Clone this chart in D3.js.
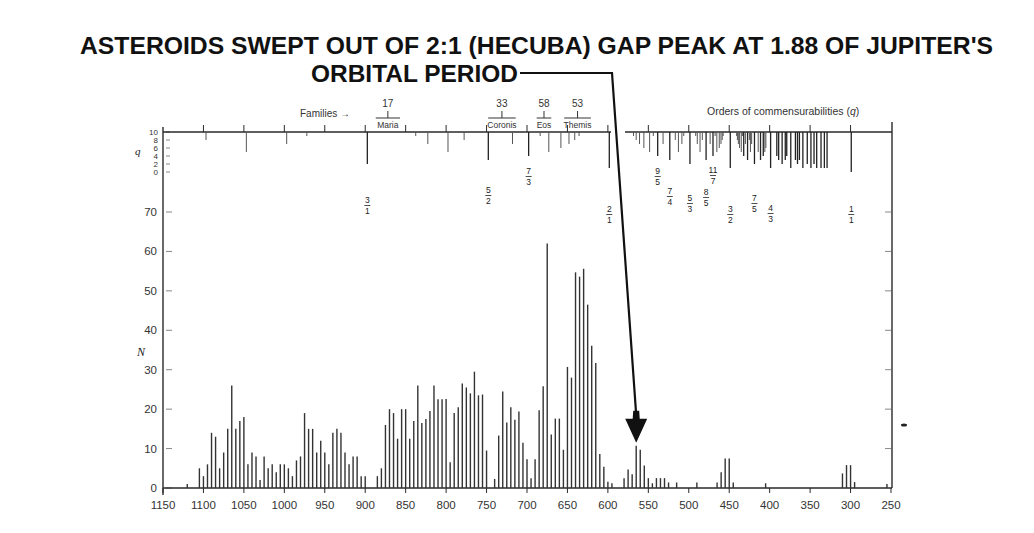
<!DOCTYPE html>
<html>
<head>
<meta charset="utf-8">
<script src="https://cdn.jsdelivr.net/npm/d3@7/dist/d3.min.js"></script>
<style>
  html, body { margin: 0; padding: 0; background: #fff; }
  svg { display: block; }
</style>
</head>
<body>
<script>
// title
var titleLines = ["ASTEROIDS SWEPT OUT OF 2:1 (HECUBA) GAP PEAK AT 1.88 OF JUPITER'S", "ORBITAL PERIOD"];

// axes
var xTicks = [1150, 1100, 1050, 1000, 950, 900, 850, 800, 750, 700, 650, 600, 550, 500, 450, 400, 350, 300, 250];
var yTicks = [0, 10, 20, 30, 40, 50, 60, 70];
var qTicks = [10, 8, 6, 4, 2, 0];

// histogram: mean motion bin ("/day) and number of asteroids N
var motion = [1120, 1105, 1100, 1095, 1090, 1085, 1080, 1075, 1070, 1065, 1060, 1055, 1050, 1045, 1040, 1035, 1030,
    1025, 1020, 1015, 1010, 1005, 1000, 995, 990, 985, 980, 975, 970, 965, 960, 955, 950, 945, 940, 935, 930,
    925, 920, 915, 910, 905, 900, 885, 880, 875, 870, 865, 860, 855, 850, 845, 840, 835, 830, 825, 820, 815,
    810, 805, 800, 795, 790, 785, 780, 775, 770, 765, 760, 755, 750, 740, 735, 730, 725, 720, 715, 710, 705,
    700, 695, 690, 685, 680, 675, 670, 665, 660, 655, 650, 645, 640, 635, 630, 625, 620, 615, 610, 605, 600,
    595, 580, 575, 570, 565, 560, 555, 550, 545, 540, 535, 530, 525, 515, 490, 465, 460, 455, 450, 445, 405,
    310, 305, 300, 295, 255];
var counts = [1, 5, 3, 6, 14, 13, 5, 9, 15, 26, 15, 17, 18, 6, 9, 8, 2,
    8, 5, 6, 4, 6, 6, 5, 3, 7, 8, 19, 15, 15, 9, 12, 9, 6, 14, 15, 14,
    9, 6, 8, 8, 3, 3, 3, 5, 16, 20, 19, 12.5, 20, 20, 12.5, 17, 26, 16.5, 17.5, 19.5, 26,
    22.5, 22.5, 22.6, 6.5, 19, 20.5, 26.5, 25.5, 24, 29.5, 23.5, 23.7, 9.5, 2.3, 13.3, 24.5, 16.6, 20.5, 17.3, 19.4, 11.5,
    7.3, 2.5, 7.3, 19.7, 25.8, 62, 13.6, 17.6, 17.6, 9.7, 30.7, 28, 54.7, 53.6, 55.6, 46.5, 36.1, 31.7, 8.6, 5.4, 1.6,
    1.2, 2.5, 4.7, 3.5, 10.7, 9.7, 5.7, 2.5, 1.2, 2.5, 2.5, 2.5, 1.4, 1.4, 1.4, 1.4, 4, 7.5, 7.5, 1.4, 1.2,
    3.7, 5.8, 5.8, 1.5, 1];

// commensurabilities with Jupiter (ratio of mean motions), order q = p - q
var jupiterMotion = 299.13;
var resonances = ["11/3", "7/2", "10/3", "13/4", "3/1", "14/5", "11/4", "8/3", "13/5", "5/2", "12/5", "7/3", "16/7",
    "9/4", "11/5", "13/6", "15/7", "17/8", "2/1",
    "19/10", "17/9", "15/8", "13/7", "11/6", "20/11", "9/5", "16/9", "7/4", "19/11", "12/7", "17/10", "22/13",
    "5/3", "23/14", "18/11", "13/8", "21/13", "8/5", "19/12", "11/7", "25/16", "14/9", "17/11", "20/13", "23/15",
    "26/17", "3/2", "28/19", "25/17", "22/15", "19/13", "16/11", "29/20", "13/9", "23/16", "10/7", "27/19",
    "17/12", "24/17", "7/5", "18/13", "11/8", "15/11", "19/14", "23/17", "4/3", "17/13", "13/10", "9/7",
    "14/11", "19/15", "5/4", "16/13", "11/9", "17/14", "6/5", "13/11", "7/6", "15/13", "8/7", "9/8", "10/9",
    "11/10", "1/1"];
var labelledResonances = ["3/1", "5/2", "7/3", "2/1", "9/5", "7/4", "5/3", "11/7", "8/5", "3/2", "7/5", "4/3", "1/1"];

// families
var familyNames = ["Maria", "Coronis", "Eos", "Themis"];
var familyCounts = [17, 33, 58, 53];
var familyFrom = [887, 748, 688, 654];
var familyTo = [857, 714, 670, 621];

var width = 1034;
var height = 533;
var arrowBar = 565;

var svg = d3.select("body").append("svg")
    .attr("width", width)
    .attr("height", height)
    .style("font-family", "'Liberation Sans', Arial, sans-serif");

var xScale = d3.scaleLinear().domain([1150, 250]).range([163, 891]);
var yScale = d3.scaleLinear().domain([0, 70]).range([488, 212]);
var qScale = d3.scaleLinear().domain([0, 10]).range([172, 132]);

var ink = "#2a2a2a";

function frac(s) {
    var p = s.split("/");
    return { num: +p[0], den: +p[1], order: +p[0] - +p[1] };
}

// title
svg.append("text")
    .attr("x", 80).attr("y", 54)
    .attr("textLength", 913).attr("lengthAdjust", "spacingAndGlyphs")
    .attr("font-size", 24.5).attr("font-weight", "bold").attr("fill", "#111")
    .text(titleLines[0]);
svg.append("text")
    .attr("x", 311).attr("y", 82)
    .attr("textLength", 207).attr("lengthAdjust", "spacingAndGlyphs")
    .attr("font-size", 24.5).attr("font-weight", "bold").attr("fill", "#111")
    .text(titleLines[1]);

// left axis N
var leftAxis = svg.append("g");
leftAxis.append("line")
    .attr("x1", 163).attr("x2", 163).attr("y1", 127).attr("y2", 495)
    .attr("stroke", ink).attr("stroke-width", 1.4);
leftAxis.selectAll(".ytick").data(yTicks).enter().append("line")
    .attr("x1", 166).attr("x2", 172)
    .attr("y1", function(d) { return yScale(d); })
    .attr("y2", function(d) { return yScale(d); })
    .attr("stroke", "#888").attr("stroke-width", 1);
leftAxis.selectAll(".ylab").data(yTicks).enter().append("text")
    .attr("x", 157)
    .attr("y", function(d) { return yScale(d) + 4; })
    .attr("text-anchor", "end").attr("font-size", 11.5).attr("fill", "#333")
    .text(function(d) { return d; });
leftAxis.append("text")
    .attr("x", 137).attr("y", 356)
    .attr("font-family", "'Liberation Serif', serif").attr("font-style", "italic")
    .attr("font-size", 12).attr("fill", "#222")
    .text("N");

// q axis
leftAxis.selectAll(".qtick").data(qTicks).enter().append("line")
    .attr("x1", 166).attr("x2", 170)
    .attr("y1", function(d) { return qScale(d); })
    .attr("y2", function(d) { return qScale(d); })
    .attr("stroke", "#888").attr("stroke-width", 1);
leftAxis.selectAll(".qlab").data(qTicks).enter().append("text")
    .attr("x", 158)
    .attr("y", function(d) { return qScale(d) + 3; })
    .attr("text-anchor", "end").attr("font-size", 8).attr("fill", "#333")
    .text(function(d) { return d; });
leftAxis.append("text")
    .attr("x", 135).attr("y", 155)
    .attr("font-family", "'Liberation Serif', serif").attr("font-style", "italic")
    .attr("font-size", 11).attr("fill", "#222")
    .text("q");

// right axis
var rightAxis = svg.append("g");
rightAxis.append("line")
    .attr("x1", 892).attr("x2", 892).attr("y1", 122).attr("y2", 488)
    .attr("stroke", ink).attr("stroke-width", 1.4);
rightAxis.selectAll("line.rt").data(yTicks.slice(1)).enter().append("line")
    .attr("class", "rt")
    .attr("x1", 885).attr("x2", 891)
    .attr("y1", function(d) { return yScale(d); })
    .attr("y2", function(d) { return yScale(d); })
    .attr("stroke", "#888").attr("stroke-width", 1);

// bottom axis
var bottom = svg.append("g");
bottom.append("line")
    .attr("x1", 163).attr("x2", 892).attr("y1", 488).attr("y2", 488)
    .attr("stroke", ink).attr("stroke-width", 1.3);
bottom.selectAll(".xtick").data(xTicks).enter().append("line")
    .attr("x1", function(d) { return xScale(d); })
    .attr("x2", function(d) { return xScale(d); })
    .attr("y1", 488).attr("y2", 493)
    .attr("stroke", ink).attr("stroke-width", 1);
bottom.selectAll(".xlab").data(xTicks).enter().append("text")
    .attr("x", function(d) { return xScale(d); })
    .attr("y", 509)
    .attr("text-anchor", "middle").attr("font-size", 11.5).attr("fill", "#333")
    .text(function(d) { return d; });

// bars
svg.append("g").selectAll("line")
    .data(motion)
    .enter()
    .append("line")
    .attr("x1", function(d) { return xScale(d); })
    .attr("x2", function(d) { return xScale(d); })
    .attr("y1", yScale(0))
    .attr("y2", function(d, i) { return yScale(counts[i]); })
    .attr("stroke", "#333")
    .attr("stroke-width", 1.4);

// top axis (orders of commensurabilities)
var topAxis = svg.append("g");
var gapLeft = 611, gapRight = 625;
topAxis.append("line")
    .attr("x1", 163).attr("x2", gapLeft).attr("y1", qScale(10)).attr("y2", qScale(10))
    .attr("stroke", ink).attr("stroke-width", 1.3);
topAxis.append("line")
    .attr("x1", gapRight).attr("x2", 892).attr("y1", qScale(10)).attr("y2", qScale(10))
    .attr("stroke", ink).attr("stroke-width", 1.3);
topAxis.selectAll(".ttick").data(xTicks.slice(1, -1)).enter().append("line")
    .attr("x1", function(d) { return xScale(d); })
    .attr("x2", function(d) { return xScale(d); })
    .attr("y1", qScale(10)).attr("y2", qScale(10) - 7)
    .attr("stroke", ink).attr("stroke-width", 1);

topAxis.selectAll(".res").data(resonances).enter().append("line")
    .attr("x1", function(d) { var f = frac(d); return xScale(jupiterMotion * f.num / f.den); })
    .attr("x2", function(d) { var f = frac(d); return xScale(jupiterMotion * f.num / f.den); })
    .attr("y1", qScale(10))
    .attr("y2", function(d) { return qScale(frac(d).order); })
    .attr("stroke", function(d) { return frac(d).order <= 4 ? "#222" : "#555"; })
    .attr("stroke-width", function(d) { return frac(d).order <= 4 ? 1.3 : 1; });

// fraction labels, with a row for each so they stagger as in the figure
var labelRow = { "3/1": 203, "5/2": 193, "7/3": 174, "2/1": 212, "9/5": 174, "7/4": 194, "5/3": 201,
    "11/7": 173, "8/5": 195, "3/2": 212, "7/5": 201, "4/3": 211, "1/1": 212 };
var labels = topAxis.selectAll(".fl").data(labelledResonances).enter().append("g")
    .attr("transform", function(d) {
        var f = frac(d);
        return "translate(" + xScale(jupiterMotion * f.num / f.den) + "," + labelRow[d] + ")";
    });
labels.append("text")
    .attr("y", 0).attr("text-anchor", "middle").attr("font-size", 8.5).attr("fill", "#222")
    .text(function(d) { return frac(d).num; });
labels.append("line")
    .attr("x1", -3).attr("x2", 3).attr("y1", 2.5).attr("y2", 2.5)
    .attr("stroke", "#222").attr("stroke-width", 0.8);
labels.append("text")
    .attr("y", 11).attr("text-anchor", "middle").attr("font-size", 8.5).attr("fill", "#222")
    .text(function(d) { return frac(d).den; });

topAxis.append("text")
    .attr("x", 707).attr("y", 115)
    .attr("font-size", 10.5).attr("fill", "#333")
    .text("Orders of commensurabilities (")
    .append("tspan").attr("font-style", "italic").text("q")
    .select(function() { return this.parentNode; })
    .append("tspan").text(")");

// families
topAxis.append("text")
    .attr("x", 300).attr("y", 117)
    .attr("font-size", 10).attr("fill", "#333")
    .text("Families \u2192");
var fam = topAxis.selectAll(".fam").data(familyNames).enter().append("g");
fam.append("line")
    .attr("x1", function(d, i) { return xScale(familyFrom[i]); })
    .attr("x2", function(d, i) { return xScale(familyTo[i]); })
    .attr("y1", 118).attr("y2", 118)
    .attr("stroke", "#333").attr("stroke-width", 1);
fam.append("line")
    .attr("x1", function(d, i) { return xScale((familyFrom[i] + familyTo[i]) / 2); })
    .attr("x2", function(d, i) { return xScale((familyFrom[i] + familyTo[i]) / 2); })
    .attr("y1", 111).attr("y2", 118)
    .attr("stroke", "#333").attr("stroke-width", 1);
fam.append("text")
    .attr("x", function(d, i) { return xScale((familyFrom[i] + familyTo[i]) / 2); })
    .attr("y", 107).attr("text-anchor", "middle").attr("font-size", 10).attr("fill", "#333")
    .text(function(d, i) { return familyCounts[i]; });
fam.append("text")
    .attr("x", function(d, i) { return xScale((familyFrom[i] + familyTo[i]) / 2); })
    .attr("y", 128).attr("text-anchor", "middle").attr("font-size", 8.5).attr("fill", "#333")
    .text(function(d) { return d; });

// arrow from the title to the peak at the 2:1 gap
var tipX = xScale(arrowBar);
var tipY = yScale(counts[motion.indexOf(arrowBar)]) - 3;
var arrow = svg.append("g");
arrow.append("path")
    .attr("d", "M520,73 L612,73 L" + tipX + "," + (tipY - 28))
    .attr("fill", "none").attr("stroke", "#111").attr("stroke-width", 2.2);
arrow.append("path")
    .attr("d", "M" + (tipX - 3) + "," + (tipY - 32) +
        " L" + (tipX + 3) + "," + (tipY - 32) +
        " L" + (tipX + 3.5) + "," + (tipY - 24) +
        " L" + (tipX + 11) + "," + (tipY - 24) +
        " L" + tipX + "," + tipY +
        " L" + (tipX - 11) + "," + (tipY - 24) +
        " L" + (tipX - 3.5) + "," + (tipY - 24) + " Z")
    .attr("fill", "#111");

// stray mark on the scan at the right margin
svg.append("ellipse")
    .attr("cx", 904).attr("cy", 425).attr("rx", 3).attr("ry", 1.5)
    .attr("fill", "#222");
</script>
</body>
</html>
